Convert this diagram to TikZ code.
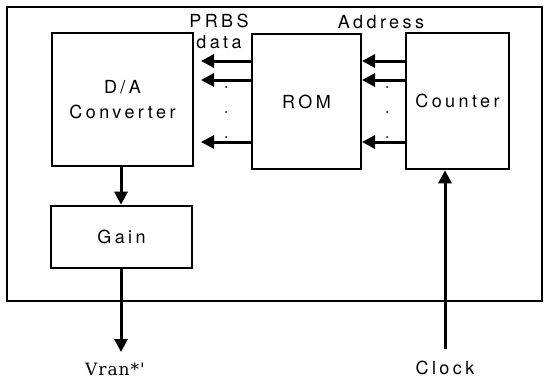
\documentclass[tikz,border=0pt]{standalone}
\usepackage{fontspec}
\setmainfont{TeX Gyre Heros}[LetterSpace=19]
\newfontfamily\vfont{DejaVu Serif}[LetterSpace=6]
\usetikzlibrary{arrows.meta}
\begin{document}
\begin{tikzpicture}[x=1pt,y=-1pt,
  blk/.style={draw,line width=2.6pt,minimum width=#1,inner sep=0pt},
  sig/.style={line width=3pt,-{Triangle[length=13pt,width=13pt]}},
  lbl/.style={font=\fontsize{18}{25}\selectfont,inner sep=0pt,align=center},
  dotc/.style={circle,fill,inner sep=0pt,minimum size=2pt}]
\useasboundingbox (0,0) rectangle (544,380);
\draw[line width=1.3pt] (7,7) rectangle (542,301);
% blocks
\node[blk=141pt,minimum height=133pt,lbl] (da) at (122.5,99.5) {D/A\\Converter};
\node[blk=109pt,minimum height=135pt,lbl] (rom) at (306.5,101.5) {ROM};
\node[blk=103pt,minimum height=136pt,lbl] (cnt) at (457.5,101) {Counter};
\node[blk=141pt,minimum height=62pt,lbl] (gain) at (121.5,237) {Gain};
% labels
\node[lbl] (prbs) at (219,21) {PRBS};
\node[lbl] (data) at (219,42) {data};
\node[lbl] (addr) at (381,22) {Address};
\node[inner sep=0pt] (vran) at (115,369) {\vfont\fontsize{17}{20}\selectfont Vran*'};
\node[lbl] (clk) at (445,368) {Clock};
\coordinate (vout) at (121,352);
\coordinate (clkin) at (445,349);
% ROM -> D/A, Counter -> ROM
\foreach \y in {61,80,142} {
  \draw[sig] (rom.west|-0,\y) -- (201,\y);
  \draw[sig] (cnt.west|-0,\y) -- (362,\y);
}
\foreach \y in {87,112,137} {
  \node[dotc] at (226,\y) {};
  \node[dotc] at (387,\y) {};
}
\draw[sig] (da.south-|121,0) -- (gain.north-|121,0);
\draw[sig] (gain.south-|121,0) -- (vout);
\draw[sig] (clkin) -- (cnt.south-|445,0);
\end{tikzpicture}
\end{document}
